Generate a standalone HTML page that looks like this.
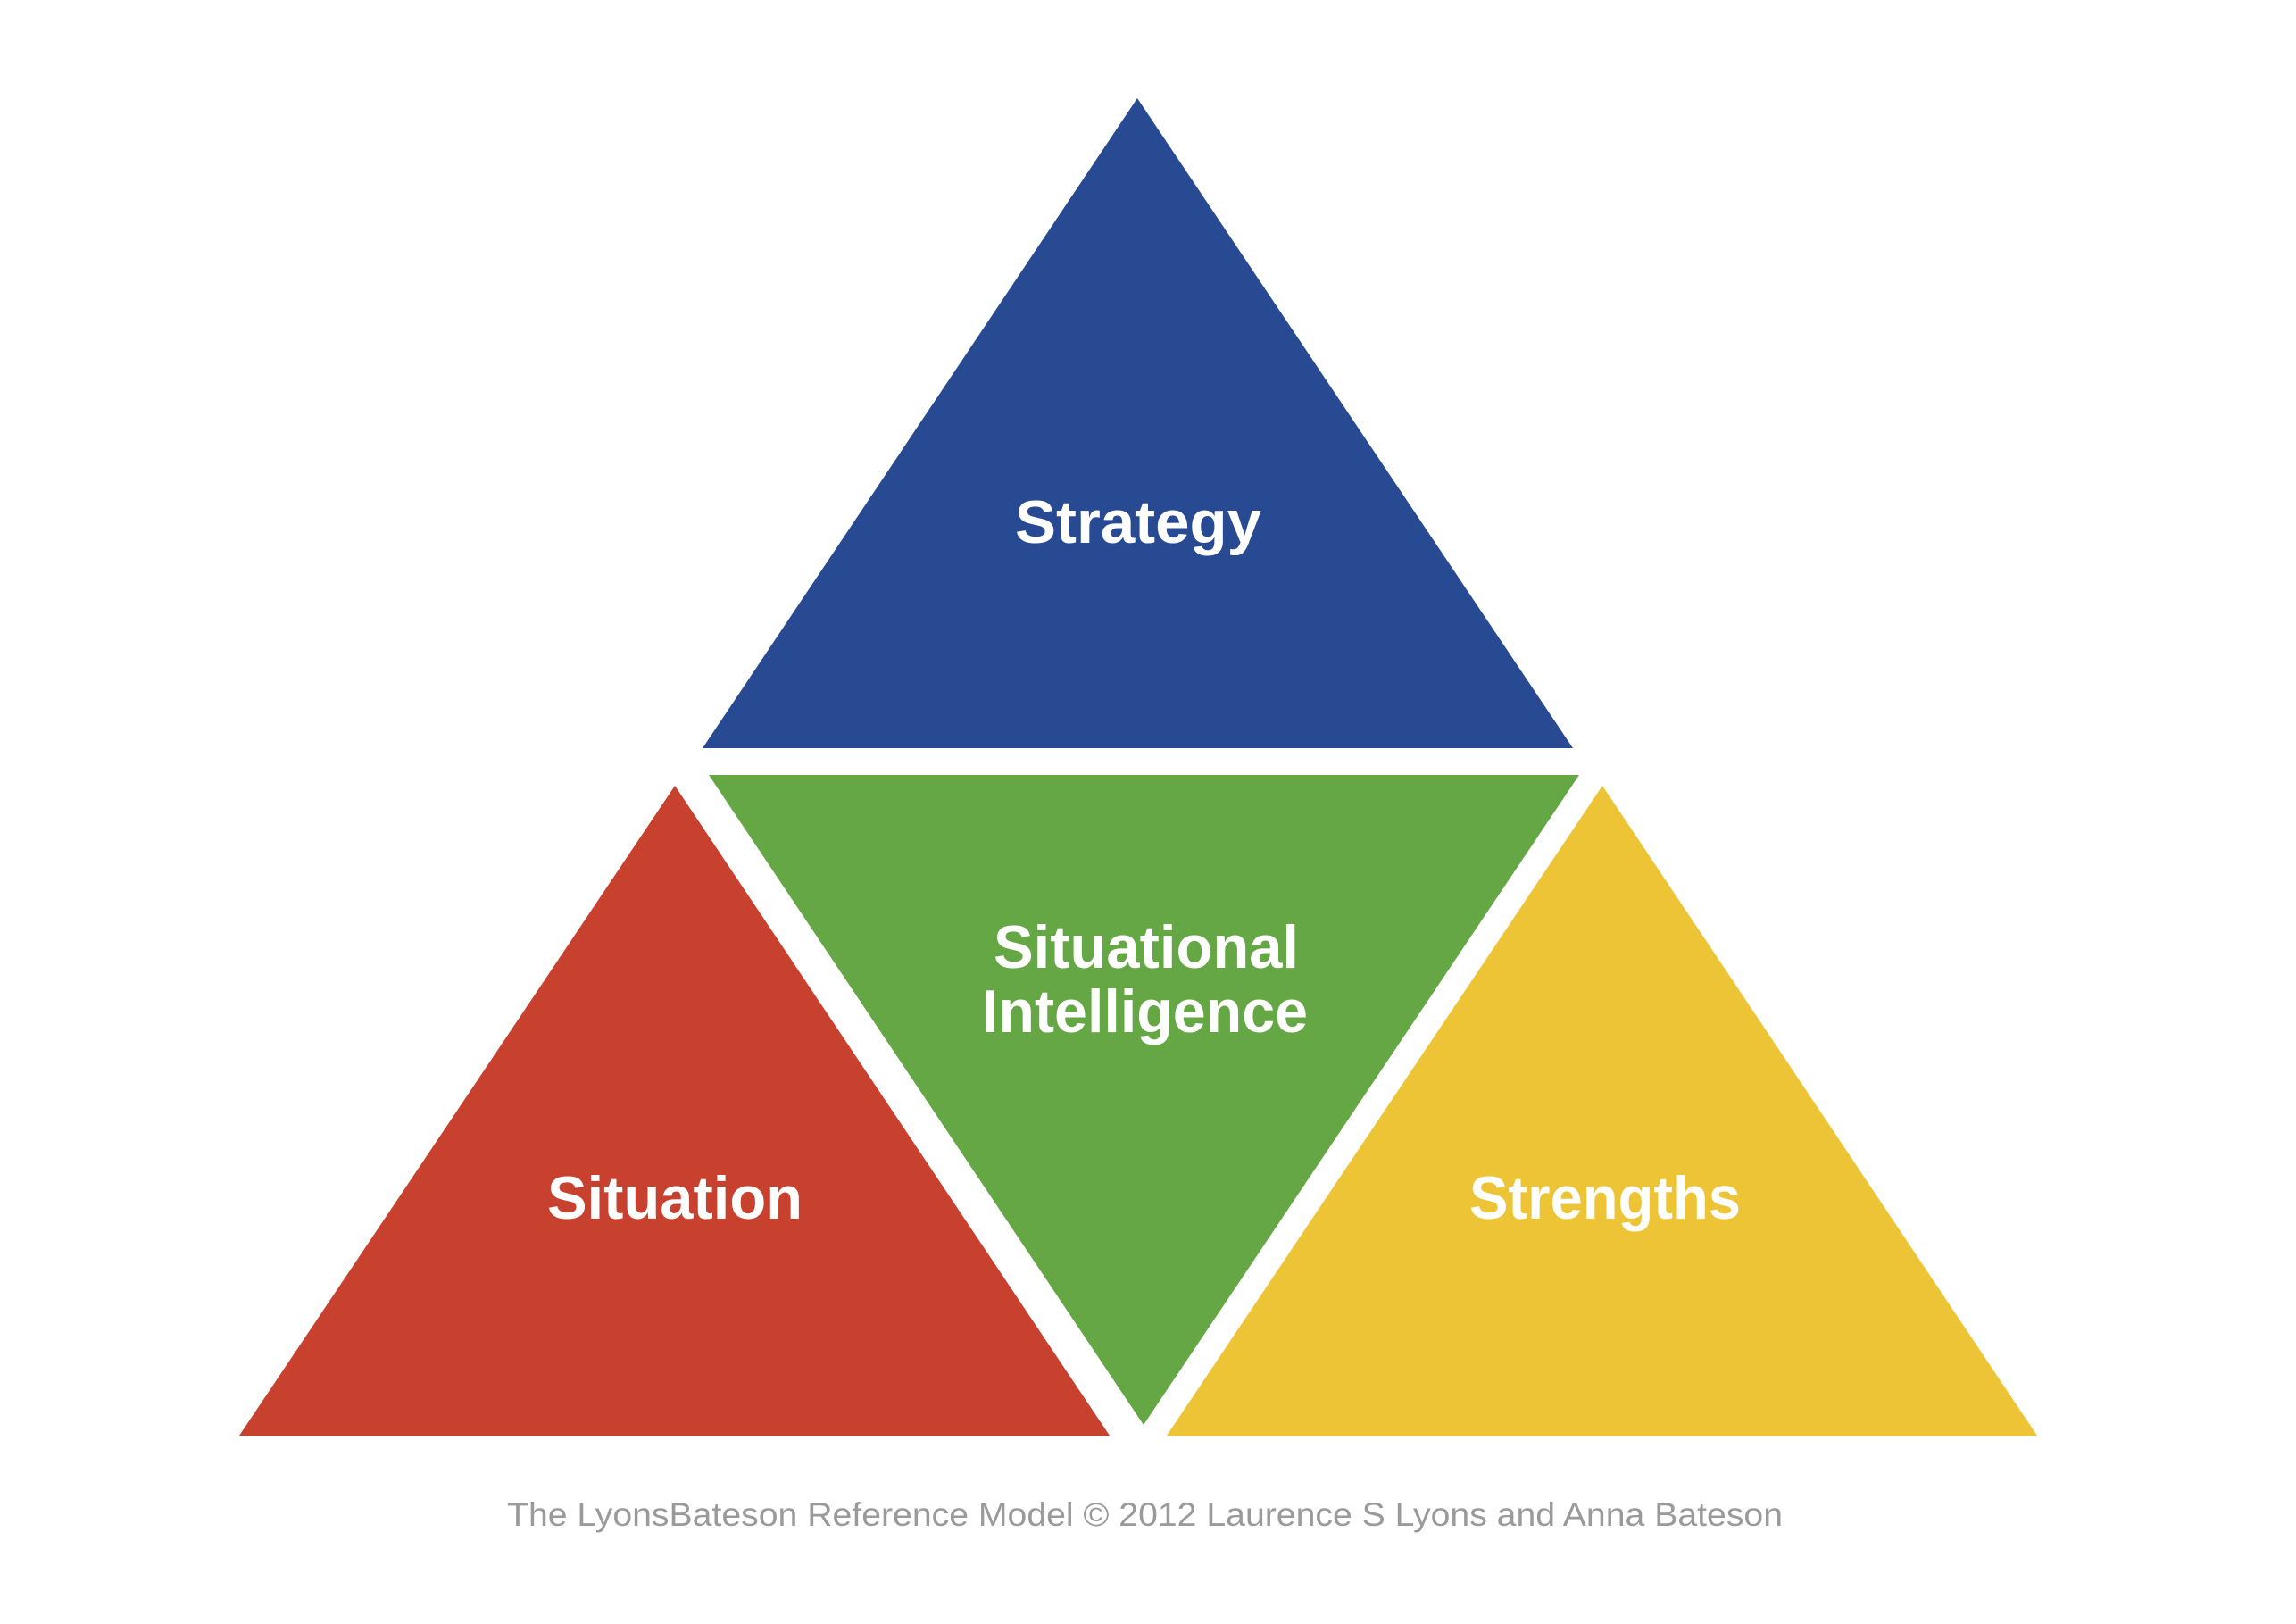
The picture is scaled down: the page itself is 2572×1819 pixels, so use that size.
<!DOCTYPE html>
<html><head><meta charset="utf-8"><style>html,body{margin:0;padding:0;background:#fff}svg{display:block}</style></head>
<body>
<svg width="2572" height="1819" viewBox="0 0 2572 1819" xmlns="http://www.w3.org/2000/svg">
<rect width="2572" height="1819" fill="#fff"/>
<polygon points="1274,110 1762,838 787,838" fill="#284a93"/>
<polygon points="794,868 1769,868 1281,1596" fill="#65a744"/>
<polygon points="756,880 1243,1608 268,1608" fill="#c8412e"/>
<polygon points="1795,880 2282,1608 1307,1608" fill="#ecc436"/>
<g font-family="Liberation Sans, sans-serif" font-weight="bold" font-size="68" fill="#fff">
<text x="1137" y="608" textLength="276" lengthAdjust="spacingAndGlyphs">Strategy</text>
<text x="1113" y="1084" textLength="342" lengthAdjust="spacingAndGlyphs">Situational</text>
<text x="1100" y="1156" textLength="365" lengthAdjust="spacingAndGlyphs">Intelligence</text>
<text x="613" y="1365" textLength="286" lengthAdjust="spacingAndGlyphs">Situation</text>
<text x="1646" y="1365" textLength="304" lengthAdjust="spacingAndGlyphs">Strengths</text>
</g>
<text x="568" y="1709" font-family="Liberation Sans, sans-serif" font-size="37" fill="#9a9a9a" textLength="1429" lengthAdjust="spacingAndGlyphs">The LyonsBateson Reference Model © 2012 Laurence S Lyons and Anna Bateson</text>
</svg>
</body></html>
